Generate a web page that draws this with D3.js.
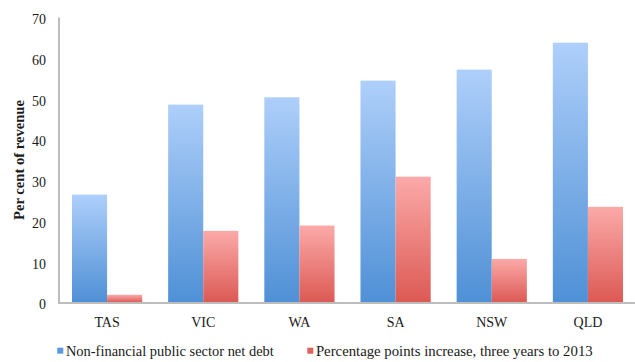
<!DOCTYPE html>
<html>
<head>
<meta charset="utf-8">
<script src="https://cdn.jsdelivr.net/npm/d3@7"></script>
<style>
  html, body { margin: 0; padding: 0; background: #fff; }
  svg { display: block; }
  text { font-family: "Liberation Serif", "Times New Roman", serif; fill: #1a1a1a; }
</style>
</head>
<body>
<svg id="chart" width="635" height="362"></svg>
<script>
// ---- data ----
const categories = ["TAS", "VIC", "WA", "SA", "NSW", "QLD"];
const seriesNames = ["Non-financial public sector net debt", "Percentage points increase, three years to 2013"];
const netDebt = [26.5, 48.6, 50.4, 54.5, 57.2, 63.8];
const ppIncrease = [1.9, 17.6, 18.9, 30.9, 10.7, 23.5];
const yTicks = [0, 10, 20, 30, 40, 50, 60, 70];
const yTitle = "Per cent of revenue";

const svg = d3.select("#chart");
const W = 635, H = 362;
const plot = { left: 59, right: 636, top: 17.5, bottom: 302.5 };

const defs = svg.append("defs");
function grad(id, top, bottom) {
  const g = defs.append("linearGradient").attr("id", id)
    .attr("x1", 0).attr("y1", 0).attr("x2", 0).attr("y2", 1);
  g.append("stop").attr("offset", "0%").attr("stop-color", top);
  g.append("stop").attr("offset", "100%").attr("stop-color", bottom);
}
grad("gBlue", "#aecffa", "#4f90d6");
grad("gRed", "#fbaaa9", "#dc5953");
const fills = ["url(#gBlue)", "url(#gRed)"];
const legendColors = ["#5b9ae0", "#e0625d"];

const x0 = d3.scaleBand().domain(categories)
  .range([plot.left, plot.right]).paddingInner(0.27).paddingOuter(0.135);
const x1 = d3.scaleBand().domain([0, 1]).range([0, x0.bandwidth()]);
const y = d3.scaleLinear().domain([0, 70]).range([plot.bottom, plot.top]);

// fit a text element's font size so its width matches a target width
function fitWidth(sel, target) {
  sel.each(function () {
    const fs = parseFloat(this.getAttribute("font-size"));
    const w = this.getComputedTextLength();
    if (w > 0) this.setAttribute("font-size", (fs * target / w).toFixed(2));
  });
}

// y axis line
svg.append("line")
  .attr("x1", plot.left).attr("x2", plot.left)
  .attr("y1", y(70)).attr("y2", y(0) + 1)
  .attr("stroke", "#bdbdbd").attr("stroke-width", 2);

// y tick labels
const yAxis = d3.axisLeft(y).tickValues(yTicks).tickSize(0).tickPadding(13);
const ya = svg.append("g").attr("transform", `translate(${plot.left},0)`).call(yAxis);
ya.select(".domain").remove();
ya.selectAll("text")
  .attr("font-family", "Liberation Serif, serif")
  .attr("font-size", 14).attr("fill", "#1a1a1a").attr("dy", "0.45em");

// bars
const rows = categories.map((c, i) => ({ cat: c, vals: [netDebt[i], ppIncrease[i]] }));
const groups = svg.append("g").selectAll("g").data(rows).join("g")
  .attr("transform", d => `translate(${x0(d.cat)},0)`);
groups.selectAll("rect").data(d => d.vals.map((v, k) => ({ v, k }))).join("rect")
  .attr("x", d => x1(d.k))
  .attr("width", x1.bandwidth())
  .attr("y", d => y(d.v))
  .attr("height", d => y(0) - y(d.v))
  .attr("fill", d => fills[d.k]);

// x axis line
svg.append("line")
  .attr("x1", plot.left - 1).attr("x2", W)
  .attr("y1", y(0) + 0.5).attr("y2", y(0) + 0.5)
  .attr("stroke", "#bdbdbd").attr("stroke-width", 2);

// x labels
const xAxis = d3.axisBottom(x0).tickSize(0).tickPadding(0);
const xa = svg.append("g").attr("transform", `translate(0,${y(0)})`).call(xAxis);
xa.select(".domain").remove();
xa.selectAll("text")
  .attr("font-family", "Liberation Serif, serif")
  .attr("font-size", 14).attr("fill", "#1a1a1a")
  .attr("y", 24).attr("dy", 0);

// y title
const yt = svg.append("text")
  .attr("transform", `translate(24,${(plot.top + plot.bottom) / 2}) rotate(-90)`)
  .attr("text-anchor", "middle")
  .attr("font-size", 14).attr("font-weight", "bold")
  .text(yTitle);
fitWidth(yt, 120);

// legend
const legendX = [57.3, 307.3];
const legendW = [208, 277];
const lg = svg.append("g").selectAll("g").data(seriesNames).join("g")
  .attr("transform", (d, i) => `translate(${legendX[i]},347.7)`);
lg.append("rect").attr("width", 6).attr("height", 6)
  .attr("fill", (d, i) => legendColors[i]);
lg.append("text").attr("x", 8.6).attr("y", 8.3)
  .attr("font-size", 14).text(d => d)
  .each(function (d, i) { fitWidth(d3.select(this), legendW[i]); });
</script>
</body>
</html>
